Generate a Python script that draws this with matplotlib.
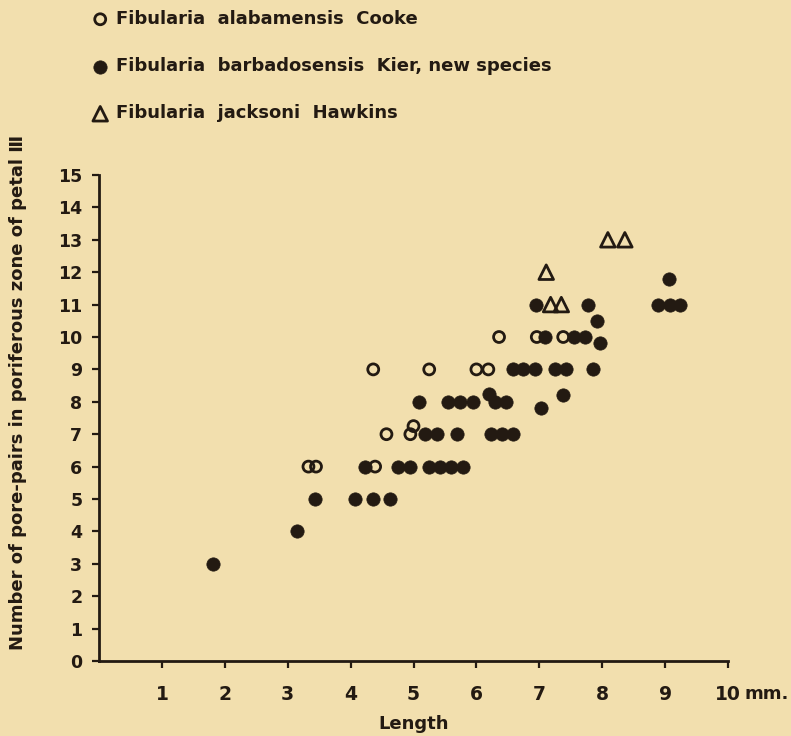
import matplotlib
matplotlib.use("Agg")
import matplotlib.pyplot as plt

# ---- data ----
alab_x = [3.33, 3.45, 4.39, 4.36, 4.57, 4.95, 5.00, 5.25, 6.00, 6.19, 6.36, 6.96, 7.38]
alab_y = [6, 6, 6, 9, 7, 7, 7.25, 9, 9, 9, 10, 10, 10]

barb_x = [1.82, 3.15, 3.44, 4.07, 4.35, 4.62,
          4.23, 4.76, 4.94, 5.24, 5.42, 5.60, 5.78,
          5.18, 5.38, 5.69, 6.24, 6.40, 6.58,
          5.09, 5.55, 5.74, 5.95, 6.20, 6.29, 6.47, 7.03, 7.38,
          6.58, 6.74, 6.93, 7.25, 7.42, 7.85,
          7.09, 7.55, 7.72, 7.96, 7.91,
          6.95, 7.77, 8.89, 9.07, 9.23, 9.06]
barb_y = [3, 4, 5, 5, 5, 5,
          6, 6, 6, 6, 6, 6, 6,
          7, 7, 7, 7, 7, 7,
          8, 8, 8, 8, 8.25, 8, 8, 7.8, 8.2,
          9, 9, 9, 9, 9, 9,
          10, 10, 10, 9.8, 10.5,
          11, 11, 11, 11, 11, 11.8]

jack_x = [7.11, 7.18, 7.35, 8.09, 8.36]
jack_y = [12, 11, 11, 13, 13]

x_ticks = [1, 2, 3, 4, 5, 6, 7, 8, 9, 10]
x_tick_labels = ["1", "2", "3", "4", "5", "6", "7", "8", "9", "10"]
y_ticks = list(range(0, 16))
y_tick_labels = [str(v) for v in y_ticks]

labels = ["Fibularia  alabamensis  Cooke",
          "Fibularia  barbadosensis  Kier, new species",
          "Fibularia  jacksoni  Hawkins"]

BG = "#f2dfae"
INK = "#231a12"
FONT = ["DejaVu Sans"]

plt.rcParams["font.family"] = FONT
plt.rcParams["font.weight"] = "bold"

W, H = 791, 736
fig = plt.figure(figsize=(W / 100, H / 100), dpi=100)
fig.patch.set_facecolor(BG)

ax = fig.add_axes([99 / W, (H - 661) / H, (728 - 99) / W, (661 - 175) / H])
ax.set_facecolor(BG)
ax.set_xlim(0, 10)
ax.set_ylim(0, 15)

h1 = ax.scatter(alab_x, alab_y, s=62, facecolors="none", edgecolors=INK,
                linewidths=2.0, zorder=3, label=labels[0])
h2 = ax.scatter(barb_x, barb_y, s=92, facecolors=INK, edgecolors=INK,
                linewidths=0.5, zorder=3, label=labels[1])
h3 = ax.scatter(jack_x, jack_y, s=110, marker="^", facecolors="none",
                edgecolors=INK, linewidths=2.0, zorder=3, label=labels[2])

for s in ["top", "right"]:
    ax.spines[s].set_visible(False)
for s in ["left", "bottom"]:
    ax.spines[s].set_color(INK)
    ax.spines[s].set_linewidth(2.0)

ax.set_xticks(x_ticks)
ax.set_xticklabels(x_tick_labels)
ax.set_yticks(y_ticks)
ax.set_yticklabels(y_tick_labels)
ax.tick_params(axis="x", direction="out", length=5, width=1.6, color=INK,
               labelsize=13.5, labelcolor=INK, pad=12)
ax.tick_params(axis="y", direction="out", length=5, width=1.6, color=INK,
               labelsize=12.5, labelcolor=INK, pad=7)
for t in ax.get_xticklabels() + ax.get_yticklabels():
    t.set_fontweight("bold")

ax.annotate("mm.", xy=(10, 0), xycoords="data", xytext=(12, -23.5),
            textcoords="offset points", ha="left", va="center",
            fontsize=13, fontweight="bold", color=INK)

ax.set_xlabel("Length", fontsize=13, fontweight="bold", color=INK, labelpad=8)
fig.text(18 / W, 1 - 392 / H, "Number of pore-pairs in poriferous zone of petal \u2162",
         rotation=90, ha="center", va="center", fontsize=13,
         fontweight="bold", color=INK)

leg = ax.legend(handles=[h1, h2, h3], loc="upper left",
                bbox_to_anchor=(93 / W, 1 - 10 / H), bbox_transform=fig.transFigure,
                frameon=False, borderaxespad=0, borderpad=0,
                handlelength=0.8, handletextpad=0.5, labelspacing=1.62,
                prop={"size": 13, "weight": "bold"}, labelcolor=INK)

fig.savefig("out.png", dpi=100, facecolor=BG)
